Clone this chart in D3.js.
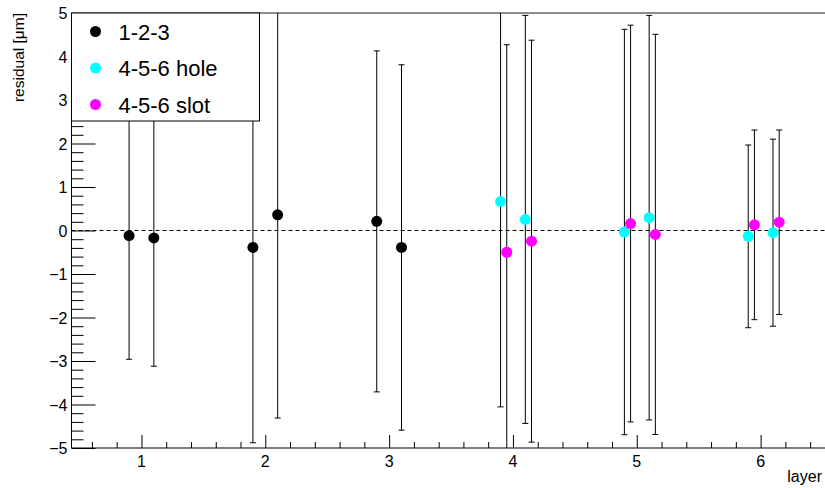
<!DOCTYPE html>
<html>
<head>
<meta charset="utf-8">
<script src="https://cdn.jsdelivr.net/npm/d3@7"></script>
<style>
  body { margin: 0; background: #ffffff; }
  svg  { display: block; }
  text { font-family: "Liberation Sans", Arial, sans-serif; fill: #000000; }
</style>
</head>
<body>
<div id="chart"></div>
<script>

/*
 * Residuals per layer, three alignment series,
 * each point drawn with a symmetric error bar.
 */

// series names and colours (legend order)
var seriesNames   = ["1-2-3", "4-5-6 hole", "4-5-6 slot"];
var seriesColours = ["#000000", "#00ffff", "#ff00ff"];

// 1-2-3
var fixedLayer = [0.9, 1.1, 1.9, 2.1, 2.9, 3.1];
var fixedResid = [-0.12, -0.17, -0.39, 0.36, 0.21, -0.39];
var fixedError = [2.84, 2.95, 4.49, 4.67, 3.92, 4.20];

// 4-5-6 hole
var holeLayer = [3.9, 4.1, 4.9, 5.1, 5.9, 6.1];
var holeResid = [0.665, 0.255, -0.035, 0.295, -0.135, -0.05];
var holeError = [4.72, 4.69, 4.66, 4.65, 2.10, 2.15];

// 4-5-6 slot
var slotLayer = [3.95, 4.15, 4.95, 5.15, 5.95, 6.15];
var slotResid = [-0.50, -0.245, 0.16, -0.09, 0.13, 0.19];
var slotError = [4.77, 4.62, 4.56, 4.60, 2.18, 2.12];

// axis ranges and ticks
var xRange      = [0.435, 6.52];
var yRange      = [-5, 5];
var xTickValues = [1, 2, 3, 4, 5, 6];
var yTickValues = [-5, -4, -3, -2, -1, 0, 1, 2, 3, 4, 5];

var width  = 825;
var height = 488;
var margin = {top: 13, right: 0, bottom: 40, left: 71.5};

var svg = d3.select("#chart").append("svg")
  .attr("width",  width)
  .attr("height", height);

var x = d3.scaleLinear()
  .domain(xRange)
  .range([margin.left, width - margin.right]);

var y = d3.scaleLinear()
  .domain(yRange)
  .range([height - margin.bottom, margin.top]);

// clip everything in the frame, error bars run off the top and bottom
svg.append("clipPath")
  .attr("id", "frameClip")
  .append("rect")
  .attr("x",      margin.left)
  .attr("y",      margin.top)
  .attr("width",  width - margin.left - margin.right)
  .attr("height", height - margin.top - margin.bottom);

// frame top line (grey)
svg.append("line")
  .attr("x1",           margin.left)
  .attr("x2",           width)
  .attr("y1",           y(yRange[1]))
  .attr("y2",           y(yRange[1]))
  .attr("stroke",       "#666666")
  .attr("stroke-width", 1.5);

/*
 * Minor tick positions every step, skipping the integers
 */
function minorTicks(range, step) {
  var out = [];
  var start = Math.ceil(range[0] / step - 1e-9);
  var end   = Math.floor(range[1] / step + 1e-9);
  for (var i = start; i <= end; i++) {
    var v = +(i * step).toFixed(4);
    if (Math.abs(v - Math.round(v)) > 1e-6) out.push(v);
  }
  return out;
}

/*
 * Axis tick marks, one group per tick length
 */
function drawTicks(axisFn, scale, values, size, transform) {
  var g = svg.append("g")
    .attr("transform", transform)
    .call(axisFn(scale).tickValues(values).tickSize(size).tickFormat(""));
  g.select(".domain").remove();
  g.selectAll(".tick line").attr("stroke", "#000000");
  return g;
}

var xAxisY = y(yRange[0]);

drawTicks(d3.axisTop,   x, minorTicks(xRange, 0.2), 6,  "translate(0," + xAxisY + ")");
drawTicks(d3.axisTop,   x, xTickValues,             13, "translate(0," + xAxisY + ")");
drawTicks(d3.axisRight, y, minorTicks(yRange, 0.2), 12, "translate(" + margin.left + ",0)");
drawTicks(d3.axisRight, y, yTickValues,             24, "translate(" + margin.left + ",0)");

// axis lines
svg.append("line")
  .attr("x1",     margin.left)
  .attr("x2",     width)
  .attr("y1",     xAxisY)
  .attr("y2",     xAxisY)
  .attr("stroke", "#000000");

svg.append("line")
  .attr("x1",     margin.left)
  .attr("x2",     margin.left)
  .attr("y1",     y(yRange[0]))
  .attr("y2",     y(yRange[1]))
  .attr("stroke", "#000000");

// tick labels
svg.selectAll(".xlabel")
  .data(xTickValues)
  .enter()
  .append("text")
  .attr("class",       "xlabel")
  .attr("x",           function(d) { return x(d); })
  .attr("y",           xAxisY + 19)
  .attr("font-size",   16)
  .attr("text-anchor", "middle")
  .text(function(d) { return d; });

// ROOT style minus sign
var fmt = function(d) { return d < 0 ? "\u2212" + Math.abs(d) : "" + d; };

svg.selectAll(".ylabel")
  .data(yTickValues)
  .enter()
  .append("text")
  .attr("class",       "ylabel")
  .attr("x",           margin.left - 4)
  .attr("y",           function(d) { return y(d) + 6; })
  .attr("font-size",   16)
  .attr("text-anchor", "end")
  .text(fmt);

// axis titles, right aligned like ROOT
svg.append("text")
  .attr("x",           width - 3)
  .attr("y",           height - 6)
  .attr("font-size",   16)
  .attr("text-anchor", "end")
  .text("layer");

svg.append("text")
  .attr("transform",   "translate(24," + y(yRange[1]) + ") rotate(-90)")
  .attr("font-size",   15.5)
  .attr("text-anchor", "end")
  .text("residual [\u03bcm]");

// dashed zero line
svg.append("line")
  .attr("x1",               margin.left)
  .attr("x2",               width)
  .attr("y1",               y(0))
  .attr("y2",               y(0))
  .attr("stroke",           "#000000")
  .attr("stroke-width",     1)
  .attr("stroke-dasharray", "4,3");

/*
 * Draw one series: error bars with caps, then markers
 */
function drawSeries(layers, resids, errors, colour) {

  var pts = layers.map(function(l, i) {
    return {x: l, y: resids[i], e: errors[i]};
  });

  var g = svg.append("g").attr("clip-path", "url(#frameClip)");

  g.selectAll(".bar")
    .data(pts)
    .enter()
    .append("line")
    .attr("x1",     function(d) { return x(d.x); })
    .attr("x2",     function(d) { return x(d.x); })
    .attr("y1",     function(d) { return y(d.y - d.e); })
    .attr("y2",     function(d) { return y(d.y + d.e); })
    .attr("stroke", "#000000");

  [-1, 1].forEach(function(sign) {
    g.selectAll(".cap" + sign)
      .data(pts)
      .enter()
      .append("line")
      .attr("x1",     function(d) { return x(d.x) - 3; })
      .attr("x2",     function(d) { return x(d.x) + 3; })
      .attr("y1",     function(d) { return y(d.y + sign * d.e); })
      .attr("y2",     function(d) { return y(d.y + sign * d.e); })
      .attr("stroke", "#000000");
  });

  g.selectAll(".dot")
    .data(pts)
    .enter()
    .append("circle")
    .attr("cx",   function(d) { return x(d.x); })
    .attr("cy",   function(d) { return y(d.y); })
    .attr("r",    5.5)
    .attr("fill", colour);
}

drawSeries(fixedLayer, fixedResid, fixedError, seriesColours[0]);
drawSeries(holeLayer,  holeResid,  holeError,  seriesColours[1]);
drawSeries(slotLayer,  slotResid,  slotError,  seriesColours[2]);

// legend box, drawn over the error bars
var legend = svg.append("g")
  .attr("transform", "translate(" + margin.left + "," + margin.top + ")");

legend.append("rect")
  .attr("x",            0)
  .attr("y",            0)
  .attr("width",        188)
  .attr("height",       108)
  .attr("fill",         "#ffffff")
  .attr("stroke",       "#000000")
  .attr("stroke-width", 1);

seriesNames.forEach(function(name, i) {

  legend.append("circle")
    .attr("cx",   24)
    .attr("cy",   18.5 + 36.5 * i)
    .attr("r",    5.5)
    .attr("fill", seriesColours[i]);

  legend.append("text")
    .attr("x",         47)
    .attr("y",         18.5 + 36.5 * i + 8)
    .attr("font-size", 22)
    .text(name);
});

</script>
</body>
</html>
